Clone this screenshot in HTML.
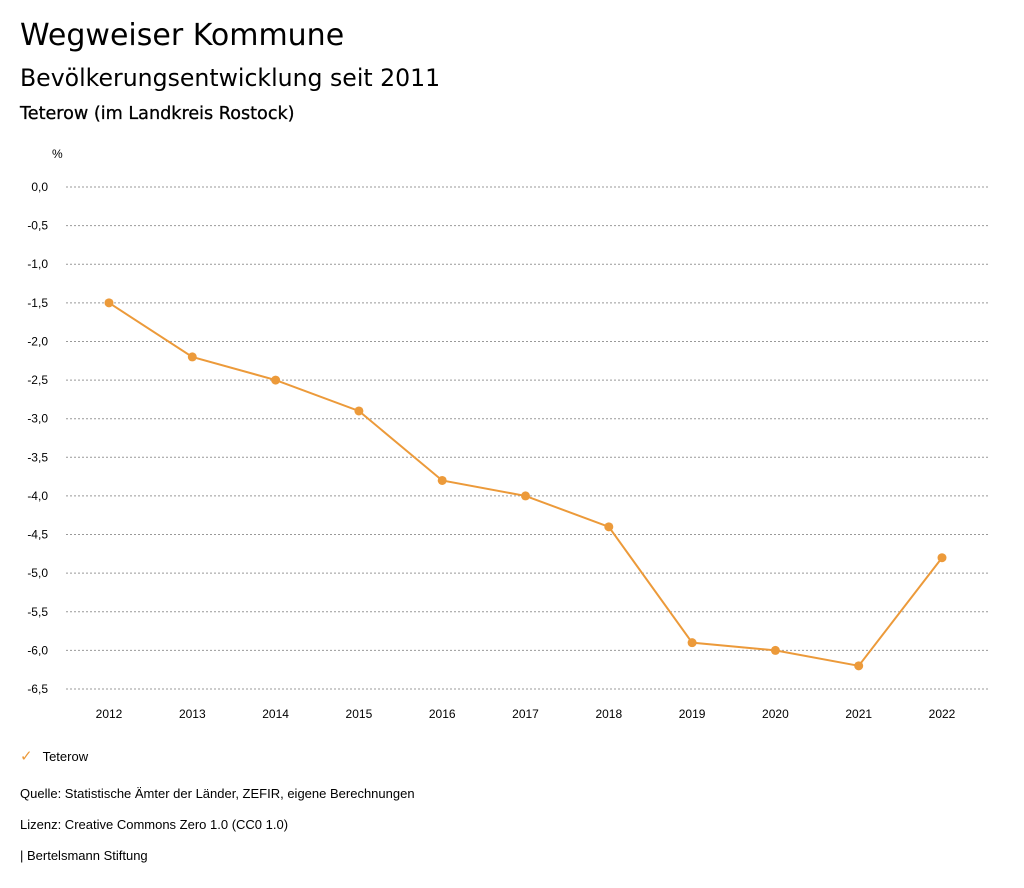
<!DOCTYPE html>
<html><head><meta charset="utf-8">
<style>
body{margin:0;background:#fff;font-family:"Liberation Sans",sans-serif;color:#000;}
#wrap{position:relative;width:1024px;height:888px;overflow:hidden;}
.t{position:absolute;white-space:nowrap;}
.d{font-family:"DejaVu Sans",sans-serif;}
</style></head>
<body>
<div id="wrap">
<div class="t d" style="left:20px;top:18px;font-size:30px;">Wegweiser Kommune</div>
<div class="t d" style="left:20px;top:64px;font-size:23.6px;">Bevölkerungsentwicklung seit 2011</div>
<div class="t d" style="left:20px;top:104px;font-size:17.6px;font-weight:500;-webkit-text-stroke:0.3px #000;">Teterow (im Landkreis Rostock)</div>
<svg id="chart" width="1024" height="888" style="position:absolute;left:0;top:0"></svg>
<div class="t" style="left:20px;top:747px;font-size:13px;"><span style="color:#ec9a3a;font-size:15px;margin-right:10px">✓</span>Teterow</div>
<div class="t" style="left:20px;top:786px;font-size:13px;">Quelle: Statistische Ämter der Länder, ZEFIR, eigene Berechnungen</div>
<div class="t" style="left:20px;top:817px;font-size:13px;">Lizenz: Creative Commons Zero 1.0 (CC0 1.0)</div>
<div class="t" style="left:20px;top:848px;font-size:13px;">| Bertelsmann Stiftung</div>
</div>
<script>
const years=["2012","2013","2014","2015","2016","2017","2018","2019","2020","2021","2022"];
const values=[-1.5,-2.2,-2.5,-2.9,-3.8,-4.0,-4.4,-5.9,-6.0,-6.2,-4.8];
const yTicks=[0,-0.5,-1,-1.5,-2,-2.5,-3,-3.5,-4,-4.5,-5,-5.5,-6,-6.5];
const NS="http://www.w3.org/2000/svg";
const svg=document.getElementById('chart');
const y=v=>187+(0-v)/6.5*(689-187);
const x=i=>109+i*(942-109)/(years.length-1);
function mk(tag,attrs){const e=document.createElementNS(NS,tag);for(const k in attrs)e.setAttribute(k,attrs[k]);svg.appendChild(e);return e;}
const u=mk('text',{x:52,y:158,'font-size':12,'font-family':'Liberation Sans, sans-serif'});u.textContent='%';


yTicks.forEach(v=>{
  const l=mk('line',{x1:66,x2:990,y1:y(v),y2:y(v),stroke:'#999','stroke-dasharray':'2,2','stroke-width':1});
  
  
  const t=mk('text',{x:48,y:y(v)+4,'text-anchor':'end','font-size':12,'font-family':'Liberation Sans, sans-serif'});
  t.textContent=v.toFixed(1).replace('.',',');
  
  
});
years.forEach((yr,i)=>{
  const t=mk('text',{x:x(i),y:718,'text-anchor':'middle','font-size':12,'font-family':'Liberation Sans, sans-serif'});
  t.textContent=yr;
  
  
});
const p=mk('polyline',{points:values.map((v,i)=>x(i)+','+y(v)).join(' '),fill:'none',stroke:'#ec9a3a','stroke-width':2});


values.forEach((v,i)=>{
  const c=mk('circle',{cx:x(i),cy:y(v),r:4.5,fill:'#ec9a3a'});
  
  
});
</script>
</body></html>
